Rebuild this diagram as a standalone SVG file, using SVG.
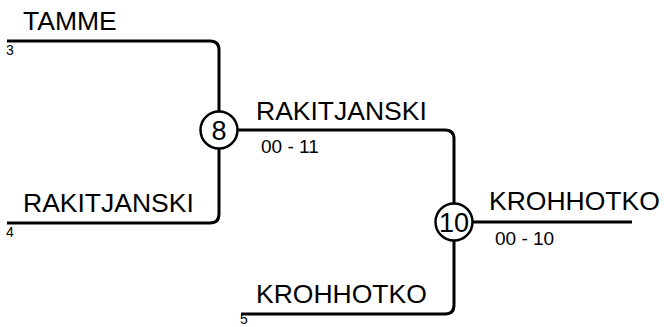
<svg xmlns="http://www.w3.org/2000/svg" width="664" height="327" viewBox="0 0 664 327">
<style>
.ln{fill:none;stroke:#000;stroke-width:3;}
.nd{fill:#fff;stroke:#000;stroke-width:2.5;}
.nm{font-family:"Liberation Sans",Arial,sans-serif;font-size:26.5px;fill:#000;}
.sc{font-family:"Liberation Sans",Arial,sans-serif;font-size:19px;fill:#000;}
.sd{font-family:"Liberation Sans",Arial,sans-serif;font-size:14px;fill:#000;}
.nt{font-family:"Liberation Sans",Arial,sans-serif;font-size:27px;fill:#000;text-anchor:middle;}
</style>
<rect width="664" height="327" fill="#fff"/>
<g id="connectors">
<path class="ln" d="M7,41 H210 Q219,41 219,50 V130"/>
<path class="ln" d="M7,223 H210 Q219,223 219,214 V130"/>
<path class="ln" d="M219,130 H445 Q454,130 454,139 V222"/>
<path class="ln" d="M241,314 H445 Q454,314 454,305 V222"/>
<path class="ln" d="M454,222 H632"/>
</g>
<g id="team-tamme">
<text class="nm" x="23" y="30">TAMME</text>
<text class="sd" x="6" y="55">3</text>
</g>
<g id="team-rakitjanski">
<text class="nm" x="23" y="212">RAKITJANSKI</text>
<text class="sd" x="6" y="237">4</text>
</g>
<g id="team-krohhotko">
<text class="nm" x="256" y="303">KROHHOTKO</text>
<text class="sd" x="240" y="323.5">5</text>
</g>
<g id="match-8">
<circle class="nd" cx="219" cy="130" r="18.5"/>
<text class="nt" x="219" y="140">8</text>
<text class="nm" x="256" y="120">RAKITJANSKI</text>
<text class="sc" x="261" y="153">00 - 11</text>
</g>
<g id="match-10">
<circle class="nd" cx="454" cy="222" r="18.5"/>
<text class="nt" x="454" y="232">10</text>
<text class="nm" x="489" y="210">KROHHOTKO</text>
<text class="sc" x="495" y="245">00 - 10</text>
</g>
</svg>
